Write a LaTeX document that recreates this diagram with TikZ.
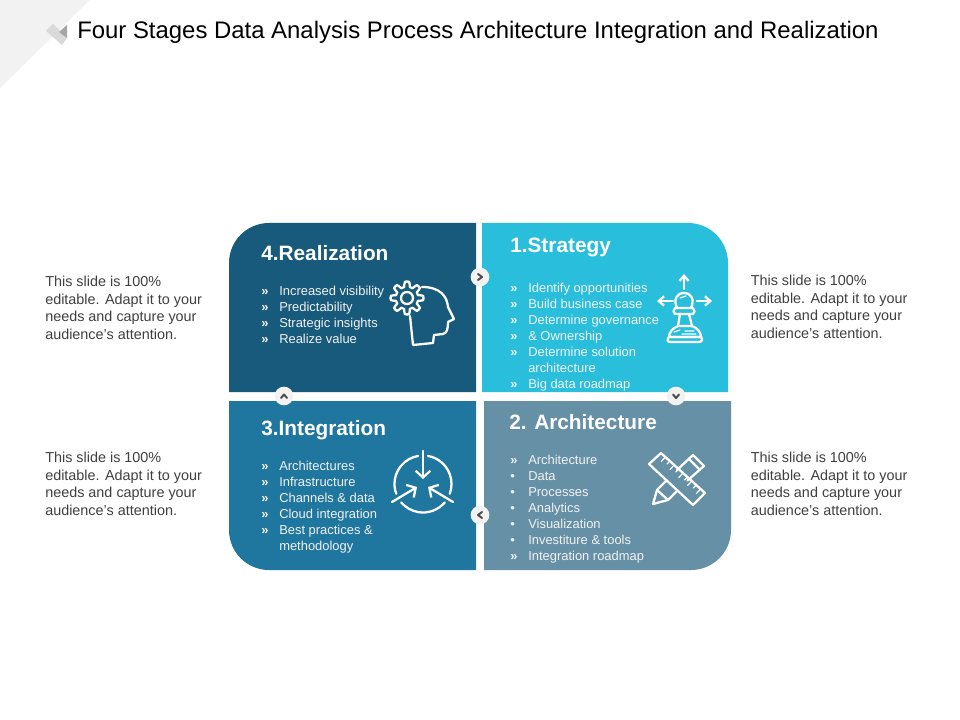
\documentclass[tikz,border=0pt]{standalone}
\usepackage{fontspec}
\setmainfont{Liberation Sans}
\usetikzlibrary{arrows.meta,calc}
\definecolor{cReal}{HTML}{175A7B}
\definecolor{cStra}{HTML}{29BEDB}
\definecolor{cInte}{HTML}{1F769F}
\definecolor{cArch}{HTML}{6690A6}
\definecolor{cSide}{HTML}{404040}
\newcommand{\rb}{\makebox[13.5pt][l]{\textbf{»}}}
\newcommand{\db}{\makebox[13.5pt][l]{•}}
\newcommand{\nb}{\makebox[13.5pt][l]{}}
\tikzset{
  x=0.75pt,y=-0.75pt,
  panel/.style={fill=#1,draw=none},
  head/.style={anchor=base west,inner sep=0,text=white,font=\fontsize{15.6}{18}\selectfont\bfseries},
  listbox/.style={anchor=north west,inner sep=0,align=left,text=white!95!black,font=\fontsize{9.7}{12}\selectfont},
  sidebox/.style={anchor=north west,inner sep=0,align=left,text=cSide,font=\fontsize{10.8}{13.2}\selectfont},
  knob/.style={circle,fill=black!5,draw=none,minimum size=14pt,inner sep=0},
  chev/.style={draw=black!70,line width=1.5pt,line cap=round,line join=round},
  ico/.style={draw=white,line width=1.7pt,line cap=round,line join=round},
  icothin/.style={draw=white,line width=0.9pt,line cap=round,line join=round}
}
\begin{document}
\begin{tikzpicture}
\useasboundingbox (0,0) rectangle (960,720);
\fill[white] (0,0) rectangle (960,720);
% corner
\fill[black!5] (0,0) -- (90,0) -- (0,88) -- cycle;
\fill[black!15] (46,31) -- (53,24) -- (67,38) -- (62,45) -- cycle;
\fill[black!35] (67,25) -- (59,32) -- (67,38) -- cycle;
\node[anchor=base west,inner sep=0,font=\fontsize{17.93}{22}\selectfont] (title) at (77,39) {Four Stages Data Analysis Process Architecture Integration and Realization};
% panels
\fill[panel=cReal] (229,392) [rounded corners=30pt] -- (229,223) [sharp corners] -- (476,223) -- (476,392) -- cycle;
\fill[panel=cStra] (482,223) [rounded corners=30pt] -- (728,223) [sharp corners] -- (728,392) -- (482,392) -- cycle;
\fill[panel=cInte] (229,401) -- (476,401) -- (476,570) [rounded corners=30pt] -- (229,570) [sharp corners] -- cycle;
\fill[panel=cArch] (484,401) -- (731,401) [rounded corners=30pt] -- (731,570) [sharp corners] -- (484,570) -- cycle;
% headings
\node[head] (h4) at (261,260.5) {4.Realization};
\node[head] (h1) at (510,252.5) {1.Strategy};
\node[head] (h3) at (261,435) {3.Integration};
\node[head] (h2) at (509,429) {2. Architecture};
% lists
\node[listbox] (l4) at (261,286) {\rb Increased visibility\\\rb Predictability\\\rb Strategic insights\\\rb Realize value};
\node[listbox] (l1) at (510,282.5) {\rb Identify opportunities\\\rb Build business case\\\rb Determine governance\\\rb \& Ownership\\\rb Determine solution\\\nb architecture\\\rb Big data roadmap};
\node[listbox] (l3) at (261,460.5) {\rb Architectures\\\rb Infrastructure\\\rb Channels \& data\\\rb Cloud integration\\\rb Best practices \&\\\nb methodology};
\node[listbox] (l2) at (510,454.5) {\rb Architecture\\\db Data\\\db Processes\\\db Analytics\\\db Visualization\\\db Investiture \& tools\\\rb Integration roadmap};
% side texts
\node[sidebox] (s1) at (45,276) {This slide is 100\%\\editable. Adapt it to your\\needs and capture your\\audience's attention.};
\node[sidebox] (s2) at (750.5,275) {This slide is 100\%\\editable. Adapt it to your\\needs and capture your\\audience's attention.};
\node[sidebox] (s3) at (45,452) {This slide is 100\%\\editable. Adapt it to your\\needs and capture your\\audience's attention.};
\node[sidebox] (s4) at (750.5,452) {This slide is 100\%\\editable. Adapt it to your\\needs and capture your\\audience's attention.};
% knobs
\node[knob] (k1) at (480,277) {};
\node[knob] (k2) at (676,396) {};
\node[knob] (k3) at (480,515) {};
\node[knob] (k4) at (284,396) {};
\draw[chev] (478,274) -- (482,277) -- (478,280);
\draw[chev] (673,394.5) -- (676,398) -- (679,394.5);
\draw[chev] (482,512) -- (478,515) -- (482,518);
\draw[chev] (281,398) -- (284,394.5) -- (287,398);
% head and gear icon
\draw[ico] (410,316) -- (413,345) -- (433,343) -- (434,335) -- (443,334) .. controls (447,333) and (448,329) .. (448,322) -- (454,319) -- (448,307) .. controls (447,296) and (440,287) .. (422,287);
\draw[ico,fill=cReal] plot[smooth,samples=97,domain=0:360] ({407+(13.8+2.6*max(-1,min(1,2*cos(8*\x))))*cos(\x)},{298+(13.8+2.6*max(-1,min(1,2*cos(8*\x))))*sin(\x)}) -- cycle;
\draw[ico] (407,298) circle[radius=6];
% pawn icon
\draw[ico,-{Straight Barb[length=4pt,width=7pt]}] (684,289) -- (684,274);
\draw[ico,-{Straight Barb[length=4pt,width=7pt]}] (673,301) -- (657,301);
\draw[ico,-{Straight Barb[length=4pt,width=7pt]}] (697,301) -- (712,301);
\draw[ico] (677,308) .. controls (673,299) and (677,293) .. (684,293) .. controls (691,293) and (695,299) .. (691,308);
\draw[ico] (675,308) -- (693,308) .. controls (695,310) and (695,313) .. (693,314) -- (675,314) .. controls (673,313) and (673,310) .. (675,308) -- cycle;
\draw[ico] (680,314) -- (678,326) (689,314) -- (692,326);
\draw[ico] (678,326) -- (692,326) .. controls (697,328) and (701,332) .. (701,337) -- (669,337) .. controls (669,332) and (673,328) .. (678,326);
\draw[ico] (669,337) -- (701,337) .. controls (703,339) and (702,342) .. (699,342) -- (670,342) .. controls (667,342) and (667,339) .. (669,337) -- cycle;
\draw[icothin] (674,332) -- (680,330) (682,334) -- (696,334) (685,331) -- (694,331);
\draw[icothin] (680,298) -- (686,296);
% integration icon
\coordinate (ic) at (423,484);
\draw[ico] (ic) ++(-80:28.5) arc[start angle=-80,end angle=20,radius=28.5];
\draw[ico] (ic) ++(40:28.5) arc[start angle=40,end angle=140,radius=28.5];
\draw[ico] (ic) ++(160:28.5) arc[start angle=160,end angle=260,radius=28.5];
\draw[ico,-{Straight Barb[length=5pt,width=11pt]}] (423,451) -- (423,479);
\draw[ico,-{Straight Barb[length=5pt,width=11pt]}] (392,502) -- (417,487);
\draw[ico,-{Straight Barb[length=5pt,width=11pt]}] (453,502) -- (428,487);
% ruler and pencil icon
\draw[ico] (661,453) -- (649,464) -- (693,505) -- (705,493) -- cycle;
\foreach \t/\l in {0.1/6,0.2/4,0.3/6,0.4/4,0.5/6,0.6/4,0.7/6,0.8/4,0.9/6}{
  \draw[icothin] ($(661,453)!\t!(705,493)$) -- ++(-0.7*\l,0.75*\l);
}
\draw[ico] (666.5,480.5) -- (657,490) -- (653,504) -- (668,500) -- (677,491);
\draw[ico] (657,490) -- (668,500);
\draw[ico] (677,470) -- (693,455) -- (704,466) -- (687.5,480.5);
\draw[ico] (689,459) -- (700,470);
\end{tikzpicture}
\end{document}
